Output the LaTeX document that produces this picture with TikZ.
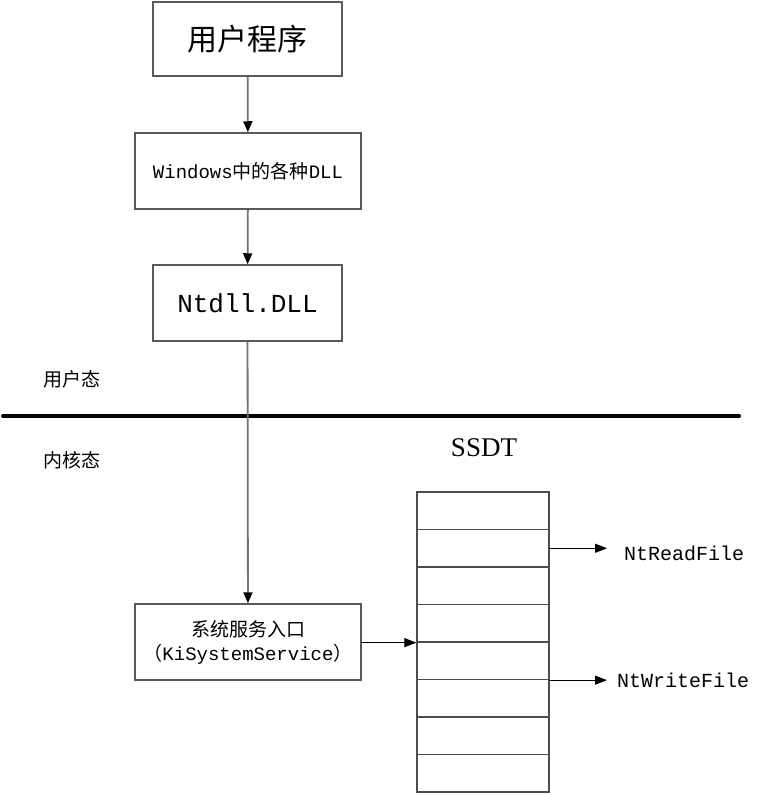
\documentclass[tikz,border=0pt]{standalone}
\usepackage{fontspec}
\setmainfont{Liberation Mono}
\newfontfamily\cjk{Noto Sans CJK SC}
\newfontfamily\serifwide{Liberation Serif}
\usetikzlibrary{arrows.meta,positioning}

\tikzset{
  box/.style = {draw = black!65, line width = 1.5pt, shape = rectangle, inner sep = 0pt, align = center},
  cell/.style = {draw = black!70, line width = 1.3pt, shape = rectangle, minimum width = 132pt, minimum height = 37.5pt, inner sep = 0pt},
  link/.style = {draw = black!55, line width = 1.8pt, -{Triangle[length = 11pt, width = 9pt, color = black]}},
  tablink/.style = {draw = black, line width = 1.2pt, -{Triangle[length = 12pt, width = 9pt]}}
}

\begin{document}
\begin{tikzpicture}[x = 1pt, y = -1pt]
\useasboundingbox (0,0) rectangle (763,795);

% user mode part
\node[box, minimum width = 189pt, minimum height = 74pt, font = \cjk\fontsize{30}{32}\selectfont] (prog) at (247.5,39) {用户程序};
\node[box, minimum width = 226pt, minimum height = 76pt, font = \fontsize{19}{22}\selectfont] (windll) at (248,171) {Windows{\cjk 中的各种}DLL};
\node[box, minimum width = 189pt, minimum height = 76pt, font = \fontsize{26}{30}\selectfont] (ntdll) at (247.5,303) {Ntdll.DLL};

\node[font = \cjk\fontsize{19}{22}\selectfont] (umode) at (72,379) {用户态};
\node[font = \cjk\fontsize{19}{22}\selectfont] (kmode) at (72,460) {内核态};
\coordinate (sepL) at (3,416);
\coordinate (sepR) at (739,416);
\draw[line width = 4pt, line cap = round] (sepL) -- (sepR);

% kernel part
\node[box, minimum width = 226pt, minimum height = 76pt, font = \fontsize{19}{26}\selectfont] (svc) at (248,642)
  {{\cjk 系统服务入口}\\[-2pt]{\cjk （}KiSystemService{\cjk ）}};

\node[font = \serifwide\fontsize{27}{30}\selectfont] (ssdt) at (484,448) {SSDT};
\foreach \i in {1,...,8}
  \node[cell] (r\i) at (483, 492 + 37.5*\i - 18.75) {};

\node[anchor = west, inner sep = 0pt, font = \fontsize{20}{24}\selectfont] (readf) at (624,553) {NtReadFile};
\node[anchor = west, inner sep = 0pt, font = \fontsize{20}{24}\selectfont] (writef) at (617,680) {NtWriteFile};
\coordinate (readEnd) at (607,548);
\coordinate (writeEnd) at (607,679.5);

\draw[link] (prog) -- (windll);
\draw[link] (windll) -- (ntdll);
\draw[link] (ntdll) -- (svc);
\draw[tablink] (svc.east |- r4.south west) -- (r4.south west);
\draw[tablink] (r2.east) -- (r2.east -| readEnd);
\draw[tablink] (r5.south east) -- (r5.south east -| writeEnd);
\end{tikzpicture}
\end{document}
